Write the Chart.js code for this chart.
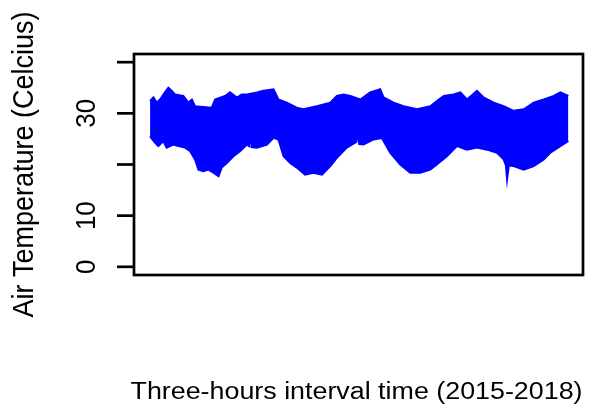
<!DOCTYPE html>
<html lang="en">

<head>
    <meta charset="UTF-8">
    <title>Air Temperature</title>
    <script src="https://cdn.jsdelivr.net/npm/chart.js@4.4.0/dist/chart.umd.min.js"></script>
    <style>
        body { margin: 0; background: #fff; }
    </style>
</head>

<body>
    <canvas id="tempChart" width="595" height="409"></canvas>

    <script>
        const upperDay = [0, 12, 23, 35, 52, 64, 76, 87, 116, 134, 146, 157, 215, 227, 262, 279, 303, 320, 338, 373,
            396, 431, 448, 477, 512, 535, 582, 629, 652, 675, 699, 734, 768, 803, 815, 850, 885, 932, 978, 1001,
            1025, 1059, 1083, 1106, 1141, 1164, 1199, 1234, 1269, 1304, 1339, 1374, 1409, 1432, 1460];
        const upperTemp = [32.4, 33.1, 32.1, 32.7, 34.1, 35.0, 34.4, 33.7, 33.4, 32.1, 32.7, 31.4, 31.1, 32.7, 33.4, 34.1, 33.1, 33.7, 33.7, 34.1,
            34.4, 34.7, 32.7, 32.1, 31.1, 30.8, 31.4, 32.1, 33.4, 33.7, 33.4, 32.7, 34.1, 34.7, 33.1, 32.1, 31.4, 30.8, 31.4, 32.4,
            33.4, 33.7, 34.1, 32.7, 34.4, 33.1, 32.1, 31.4, 30.5, 30.8, 32.1, 32.7, 33.4, 34.1, 33.4];

        const lowerDay = [0, 17, 29, 46, 58, 81, 99, 122, 140, 157, 169, 186, 204, 221, 239, 250, 268, 291, 314, 338,
            345, 349, 354, 373, 408, 431, 448, 466, 489, 512, 541, 570, 600, 629, 652, 687, 720, 725, 730, 745,
            780, 809, 838, 873, 908, 943, 978, 1001, 1036, 1071, 1106, 1141, 1176, 1211, 1234, 1242, 1246, 1252, 1269, 1304,
            1339, 1374, 1397, 1432, 1460];
        const lowerTemp = [25.5, 24.3, 23.6, 24.6, 23.3, 23.9, 23.6, 23.3, 22.6, 21.0, 19.0, 18.7, 19.0, 18.4, 17.7, 19.4, 20.3, 21.6, 22.6, 23.9,
            23.6, 26.5, 23.4, 23.3, 23.9, 25.2, 24.9, 21.6, 20.3, 19.4, 18.0, 18.4, 18.0, 19.7, 21.3, 23.3, 24.4, 26.5, 24.0, 23.9,
            24.9, 25.2, 22.3, 20.0, 18.4, 18.4, 19.0, 20.0, 21.6, 23.6, 22.9, 23.3, 22.9, 22.3, 21.0, 19.8, 17.1, 19.8, 19.7, 19.0,
            19.7, 21.0, 22.3, 23.6, 24.6];

        const yTicks = [0, 10, 20, 30, 40];
        const yTickLabels = ['0', '10', '', '30', ''];
        const xTitle = 'Three-hours interval time (2015-2018)';
        const yTitle = 'Air Temperature (Celcius)';

        const blue = 'rgb(0, 0, 255)';

        // R style frame: box, outward y ticks, rotated labels
        const baseAxes = {
            id: 'baseAxes',
            afterDraw(chart) {
                const c = chart.ctx;
                const a = chart.chartArea;
                const yScale = chart.scales.y;
                c.save();
                c.strokeStyle = '#000';
                c.lineWidth = 2.7;
                c.strokeRect(a.left, a.top, a.right - a.left, a.bottom - a.top);

                c.fillStyle = '#000';
                c.font = '26px "Liberation Sans", Arial, sans-serif';
                c.textAlign = 'center';
                c.textBaseline = 'alphabetic';
                yTicks.forEach((v, i) => {
                    const py = yScale.getPixelForValue(v);
                    c.beginPath();
                    c.moveTo(a.left - 17, py);
                    c.lineTo(a.left, py);
                    c.stroke();
                    if (yTickLabels[i]) {
                        c.save();
                        c.translate(95, py);
                        c.scale(1.08, 1);
                        c.rotate(-Math.PI / 2);
                        c.fillText(yTickLabels[i], 0, 0);
                        c.restore();
                    }
                });

                // y title
                c.save();
                c.font = '27px "Liberation Sans", Arial, sans-serif';
                c.translate(33, (a.top + a.bottom) / 2);
                c.scale(1.08, 1);
                c.rotate(-Math.PI / 2);
                c.fillText(yTitle, 0, 0);
                c.restore();

                // x title
                c.save();
                c.font = '23px "Liberation Sans", Arial, sans-serif';
                c.translate((a.left + a.right) / 2 - 2, 399);
                c.scale(1.167, 1);
                c.fillText(xTitle, 0, 0);
                c.restore();

                c.restore();
            }
        };

        const ctx = document.getElementById('tempChart').getContext('2d');
        const tempChart = new Chart(ctx, {
            type: 'line',
            data: {
                datasets: [{
                    label: 'upper',
                    data: upperDay.map((d, i) => ({ x: d, y: upperTemp[i] })),
                    borderColor: blue,
                    backgroundColor: blue,
                    borderWidth: 2,
                    pointRadius: 0,
                    tension: 0,
                    fill: '+1'
                }, {
                    label: 'lower',
                    data: lowerDay.map((d, i) => ({ x: d, y: lowerTemp[i] })),
                    borderColor: blue,
                    backgroundColor: blue,
                    borderWidth: 2,
                    pointRadius: 0,
                    tension: 0,
                    fill: false
                }]
            },
            options: {
                responsive: false,
                animation: false,
                layout: { padding: { left: 134, right: 12, top: 54, bottom: 134 } },
                plugins: {
                    legend: { display: false },
                    tooltip: { enabled: false }
                },
                scales: {
                    x: { type: 'linear', min: -56, max: 1511, display: false },
                    y: { min: -1.6, max: 41.6, display: false }
                }
            },
            plugins: [baseAxes]
        });
    </script>
</body>

</html>
